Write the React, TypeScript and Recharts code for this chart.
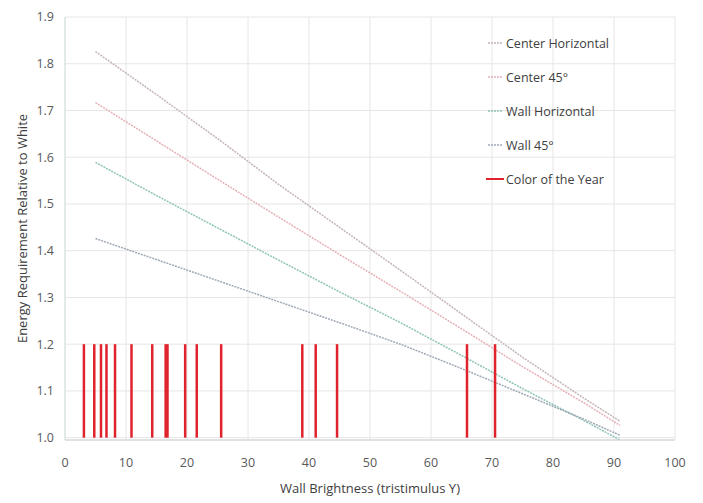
import React from 'react';
import {
  CartesianGrid,
  Line,
  LineChart,
  ReferenceLine,
  XAxis,
  YAxis,
} from 'recharts';

const brightness = [5, 15, 25, 35, 45, 55, 65, 75, 85, 91];
const centerHorizontal = [1.826, 1.734, 1.64, 1.542, 1.45, 1.358, 1.265, 1.172, 1.085, 1.035];
const center45 = [1.717, 1.635, 1.553, 1.472, 1.392, 1.313, 1.233, 1.152, 1.075, 1.026];
const wallHorizontal = [1.589, 1.518, 1.449, 1.38, 1.312, 1.246, 1.176, 1.105, 1.037, 0.995];
const wall45 = [1.426, 1.381, 1.336, 1.291, 1.246, 1.2, 1.148, 1.094, 1.04, 1.005];

const colorOfYear = [3.1, 4.8, 5.9, 6.8, 8.2, 10.9, 14.3, 16.5, 16.8, 19.7, 21.6, 25.6, 38.9, 41.1, 44.6, 65.9, 70.5];
const yearBase = 1.0;
const yearTop = 1.2;

const xTicks = [0, 10, 20, 30, 40, 50, 60, 70, 80, 90, 100];
const yTicks = [1.0, 1.1, 1.2, 1.3, 1.4, 1.5, 1.6, 1.7, 1.8, 1.9];

const series = [
  { key: 'centerHorizontal', name: 'Center Horizontal', color: '#c4b4b8' },
  { key: 'center45', name: 'Center 45°', color: '#e6b0b6' },
  { key: 'wallHorizontal', name: 'Wall Horizontal', color: '#8ec4b6' },
  { key: 'wall45', name: 'Wall 45°', color: '#9ea8b6' },
];
const red = '#e0222c';

const font = '"Open Sans", "Noto Sans", sans-serif';

function ChartLegend() {
  return (
    <div
      style={{
        position: 'absolute',
        left: 478,
        top: 18,
        fontFamily: font,
        fontSize: 12.5,
        color: '#404040',
      }}
    >
      {series.map((s) => (
        <div key={s.key} style={{ display: 'flex', alignItems: 'center', height: 34 }}>
          <svg width={18} height={6} style={{ marginRight: 2 }}>
            <line x1={2} y1={3} x2={17} y2={3} stroke={s.color} strokeWidth={1.5} strokeDasharray="2 1" />
          </svg>
          {s.name}
        </div>
      ))}
      <div style={{ display: 'flex', alignItems: 'center', height: 34 }}>
        <svg width={18} height={6} style={{ marginRight: 2 }}>
          <line x1={0} y1={3} x2={18} y2={3} stroke={red} strokeWidth={2} />
        </svg>
        Color of the Year
      </div>
    </div>
  );
}

export default function App() {
  const data = brightness.map((x, i) => ({
    x,
    centerHorizontal: centerHorizontal[i],
    center45: center45[i],
    wallHorizontal: wallHorizontal[i],
    wall45: wall45[i],
  }));

  const tick = { fontFamily: font, fontSize: 12.5, fill: '#595959' };

  return (
    <div style={{ position: 'relative', width: 695, height: 495 }}>
      <LineChart
        width={695}
        height={495}
        data={data}
        margin={{ top: 9, right: 28, left: 0, bottom: 13 }}
      >
        <CartesianGrid stroke="#e6e6e6" />
        <XAxis
          dataKey="x"
          type="number"
          domain={[0, 100]}
          ticks={xTicks}
          tick={{ ...tick, dy: 10 }}
          tickLine={false}
          axisLine={{ stroke: '#d0d0d0' }}
          height={50}
          label={{
            value: 'Wall Brightness (tristimulus Y)',
            position: 'insideBottom',
            offset: -3,
            style: { fontFamily: font, fontSize: 13, fill: '#404040' },
          }}
        />
        <YAxis
          type="number"
          domain={[1.0, 1.9]}
          ticks={yTicks}
          tickFormatter={(v: number) => v.toFixed(1)}
          tick={{ ...tick, dx: -3 }}
          tickLine={false}
          axisLine={{ stroke: '#d0e4d8' }}
          width={57}
          label={{
            value: 'Energy Requirement Relative to White',
            angle: -90,
            position: 'insideLeft',
            offset: 14,
            style: { textAnchor: 'middle', fontFamily: font, fontSize: 13, fill: '#404040' },
          }}
        />
        {series.map((s) => (
          <Line
            key={s.key}
            type="linear"
            dataKey={s.key}
            name={s.name}
            stroke={s.color}
            strokeWidth={1.5}
            strokeDasharray="2 1"
            dot={false}
            isAnimationActive={false}
          />
        ))}
        {colorOfYear.map((v, i) => (
          <ReferenceLine
            key={i}
            segment={[
              { x: v, y: yearBase },
              { x: v, y: yearTop },
            ]}
            stroke={red}
            strokeWidth={2.5}
            ifOverflow="visible"
          />
        ))}
      </LineChart>
      <ChartLegend />
    </div>
  );
}
